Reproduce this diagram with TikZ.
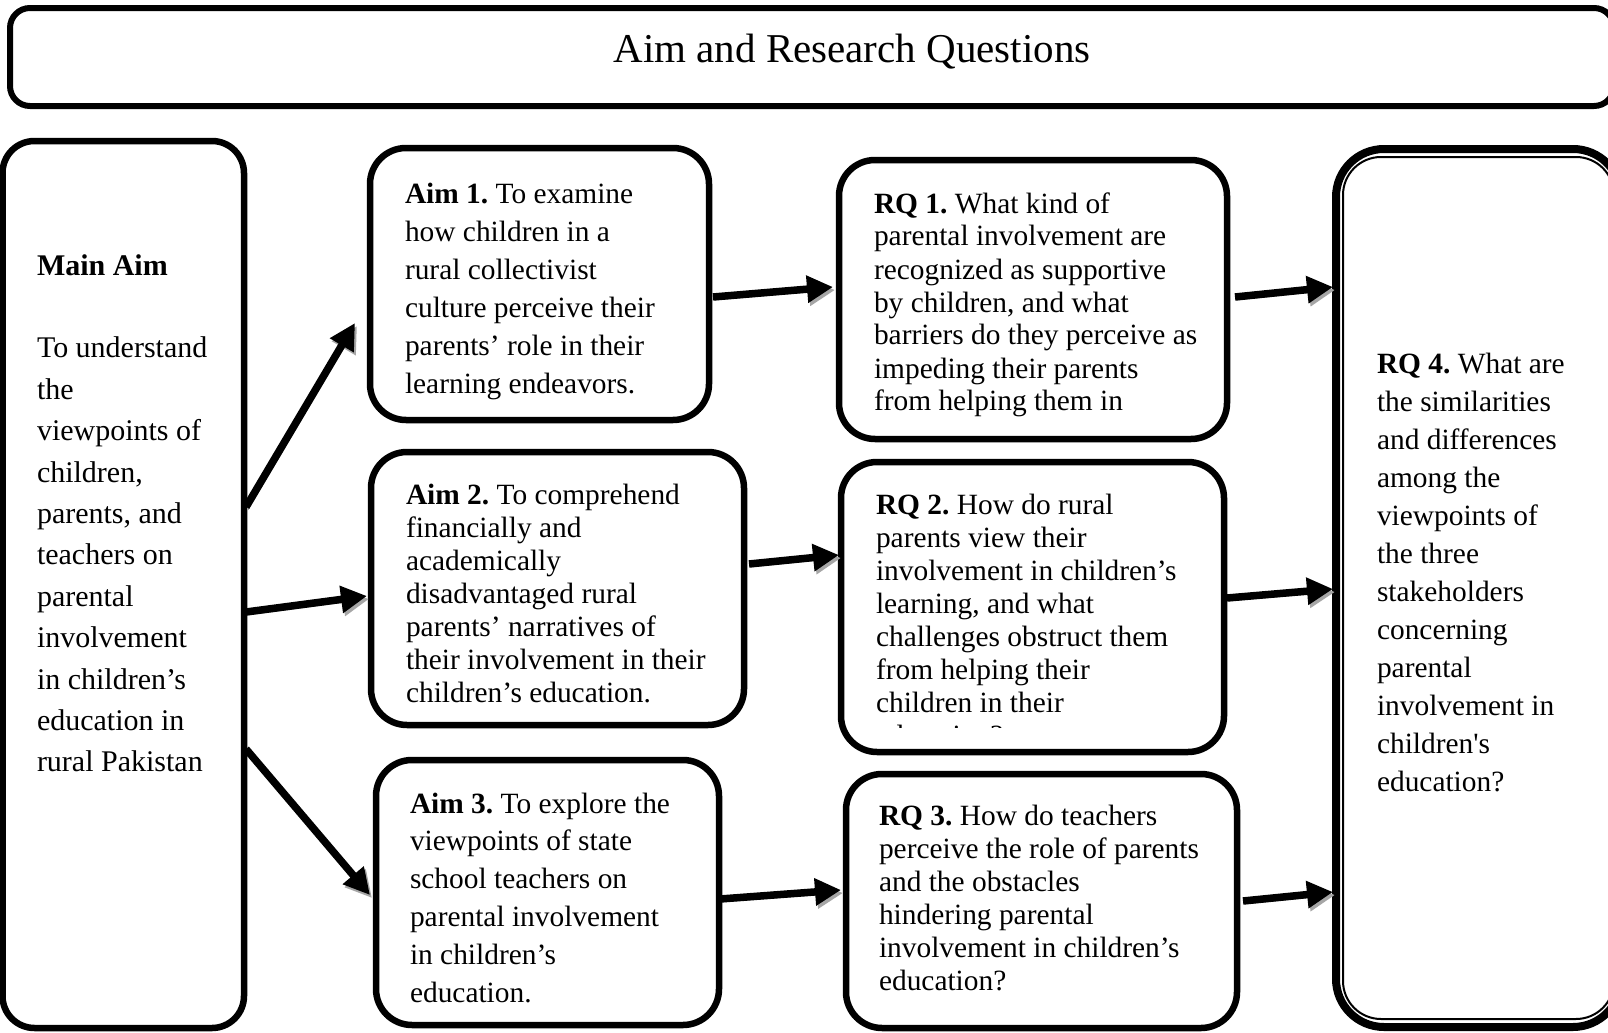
\documentclass[tikz,border=0pt]{standalone}
\usepackage{fontspec}
\setmainfont{Liberation Serif}
\newfontfamily\rawserif{Liberation Serif}
\usetikzlibrary{arrows.meta}
\frenchspacing
\begin{document}
\begin{tikzpicture}[x=0.5pt,y=-0.5pt,
  box/.style={draw, line width=3.25pt, rounded corners=18pt, outer sep=0pt, inner sep=0pt},
  conn/.style={line width=3.75pt, -{Triangle[length=13pt,width=13pt]},
    preaction={draw=black!35, transform canvas={shift={(1pt,-1.5pt)}}}},
  txt/.style={anchor=base west, inner sep=0pt, outer sep=0pt},
]
\useasboundingbox (0,0) rectangle (1608,1033);
\fill[white] (0,0) rectangle (1608,1033);

% header
\node[box, line width=3pt, rounded corners=10pt, minimum width=802pt, minimum height=49pt] (head) at (812,57) {};
\node[anchor=base, inner sep=0pt] (title) at (852,62) {\fontsize{20.5pt}{24pt}\selectfont Aim and Research Questions};

% boxes
\node[box, rounded corners=16pt, minimum width=120.75pt, minimum height=443.5pt] (main) at (123.25,584.5) {};
\node[box, minimum width=169.5pt, minimum height=136pt] (aim1) at (539.5,284) {};
\node[box, minimum width=186.5pt, minimum height=136.5pt] (aim2) at (557.5,588.5) {};
\node[box, minimum width=171.5pt, minimum height=132.5pt] (aim3) at (547.5,892.5) {};
\node[box, minimum width=194pt, minimum height=139.5pt] (rq1) at (1033,299.5) {};
\node[box, minimum width=191.5pt, minimum height=145pt] (rq2) at (1032.5,607) {};
\node[box, minimum width=195.5pt, minimum height=127pt] (rq3) at (1041.5,901) {};
\node[box, line width=4pt, rounded corners=24pt, minimum width=142.5pt, minimum height=439pt] (rq4) at (1478.5,588) {};
\draw[line width=1pt, rounded corners=19pt] ([shift={(3.5pt,-4pt)}]rq4.north west) rectangle ([shift={(-3.5pt,4pt)}]rq4.south east);

% texts
\node[txt] (tmain) at (37,275) {\parbox[t]{120pt}{\fontsize{15pt}{20.7pt}\selectfont
  \textbf{Main Aim}\\ \mbox{}\\ To understand\\ the\\ viewpoints of\\ children,\\ parents, and\\ teachers on\\ parental\\ involvement\\ in children’s\\ education in\\ rural Pakistan}};
\node[txt] (taim1) at (405,203) {\parbox[t]{170pt}{\fontsize{14.7pt}{19pt}\selectfont
  \textbf{Aim 1.} To examine\\ how children in a\\ rural collectivist\\ culture perceive their\\ parents’ role in their\\ learning endeavors.}};
\node[txt] (taim2) at (406,504) {\parbox[t]{185pt}{\fontsize{14.7pt}{16.55pt}\selectfont
  \textbf{Aim 2.} To comprehend\\ financially and\\ academically\\ disadvantaged rural\\ parents’ narratives of\\ their involvement in their\\ children’s education.}};
\node[txt] (taim3) at (410,813) {\parbox[t]{170pt}{\fontsize{14.7pt}{18.95pt}\selectfont
  \textbf{Aim 3.} To explore the\\ viewpoints of state\\ school teachers on\\ parental involvement\\ in children’s\\ education.}};
\begin{scope}
  \clip (840,160) rectangle (1230,423);
  \node[txt] (trq1) at (874,213) {\parbox[t]{190pt}{\fontsize{14.7pt}{16.5pt}\selectfont
    \textbf{RQ 1.} What kind of\\ parental involvement are\\ recognized as supportive\\ by children, and what\\ barriers do they perceive as\\ impeding their parents\\ from helping them in}};
\end{scope}
\begin{scope}
  \clip (840,460) rectangle (1230,727);
  \node[txt] (trq2) at (876,514) {\parbox[t]{190pt}{\fontsize{14.7pt}{16.5pt}\selectfont
    \textbf{RQ 2.} How do rural\\ parents view their\\ involvement in children’s\\ learning, and what\\ challenges obstruct them\\ from helping their\\ children in their\\ education?}};
\end{scope}
\node[txt] (trq3) at (879,825) {\parbox[t]{190pt}{\fontsize{14.7pt}{16.5pt}\selectfont
  \textbf{RQ 3.} How do teachers\\ perceive the role of parents\\ and the obstacles\\ hindering parental\\ involvement in children’s\\ education?}};
\node[txt] (trq4) at (1377,373) {\parbox[t]{130pt}{\fontsize{14.7pt}{19pt}\selectfont
  \textbf{RQ 4.} What are\\ the similarities\\ and differences\\ among the\\ viewpoints of\\ the three\\ stakeholders\\ concerning\\ parental\\ involvement in\\ children{\rawserif'}s\\ education?}};

% connectors
\draw[conn] ([xshift=1pt,yshift=38.75pt]main.east) -- ([xshift=-7.5pt,yshift=-19.5pt]aim1.west);
\draw[conn] ([xshift=1pt,yshift=-13.75pt]main.east) -- ([xshift=-2pt,yshift=-3.75pt]aim2.west);
\draw[conn] ([xshift=1pt,yshift=-82.25pt]main.east) -- ([xshift=-3pt,yshift=-1.25pt]aim3.west);
\draw[conn] ([xshift=2pt,yshift=-6.5pt]aim1.east) -- ([xshift=-3pt,yshift=6.25pt]rq1.west);
\draw[conn] ([xshift=2.5pt,yshift=12.25pt]aim2.east) -- ([xshift=-1pt,yshift=26pt]rq2.west);
\draw[conn] ([xshift=0.5pt,yshift=-3.25pt]aim3.east) -- ([xshift=-2.5pt,yshift=5.5pt]rq3.west);
\draw[conn] ([xshift=4pt,yshift=1.25pt]rq1.east) -- ([xshift=-1.5pt,yshift=150.5pt]rq4.west);
\draw[conn] ([xshift=1.5pt,yshift=4.5pt]rq2.east) -- ([xshift=-1.5pt,yshift=-0.5pt]rq4.west);
\draw[conn] ([xshift=3pt]rq3.east) -- ([xshift=-1.5pt,yshift=-152pt]rq4.west);
\end{tikzpicture}
\end{document}
